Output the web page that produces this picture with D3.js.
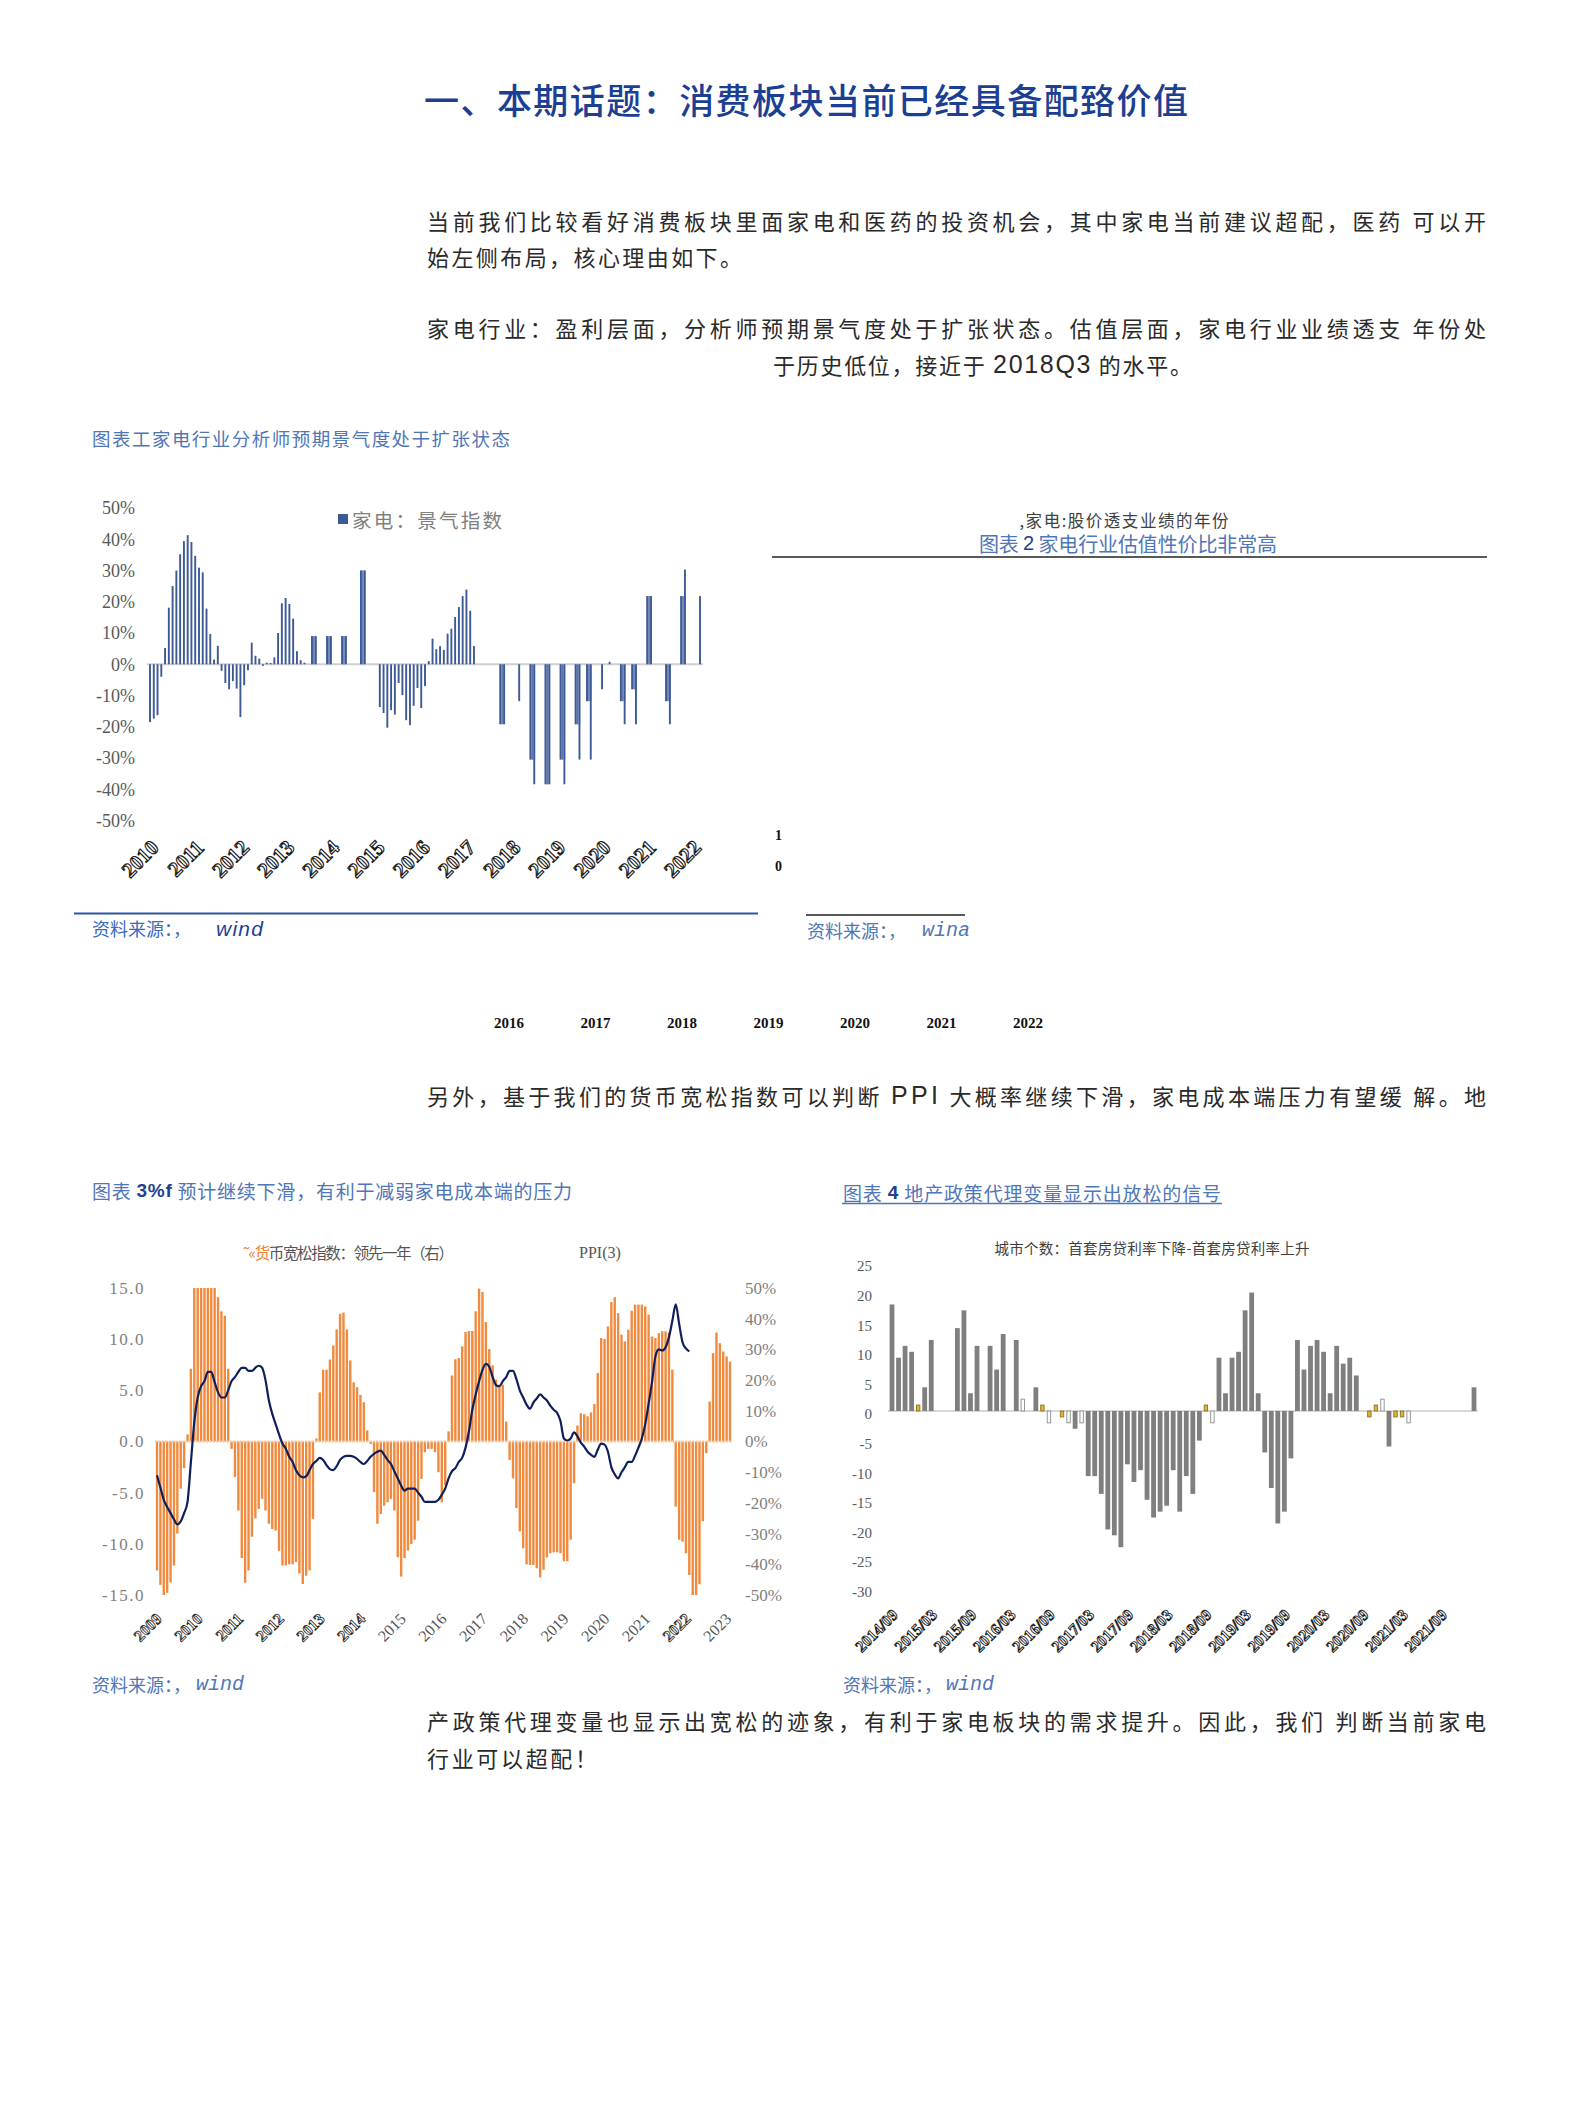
<!DOCTYPE html>
<html><head><meta charset="utf-8">
<script src="https://cdn.jsdelivr.net/npm/d3@7/dist/d3.min.js"></script>
<style>html,body{margin:0;padding:0;background:#fff;}svg{display:block;}</style>
</head><body>
<script>
// ---------------- DATA ----------------
// Chart 1: 家电：景气指数 (monthly, %)
const c1Years = ['2010','2011','2012','2013','2014','2015','2016','2017','2018','2019','2020','2021','2022'];
const c1Values = [
 -18.5,-17.4,-16.3,-4,5.2,18.1,25,30,35.2,39.4,
 41.3,39.1,34.7,30.9,29.4,17.8,9.7,1.5,5.9,-2.1,
 -6,-8,-5.4,-7.8,-16.9,-6.7,-1.9,6.9,2.7,1.8,
 -0.5,0.5,0.4,2.2,10,19.5,21.2,19.3,14.6,4.2,
 1.3,0.5,0,9,9,0,0,9,9,0,
 0,9,9,0,0,0,30,30,0,0,
 0,-13.7,-15.6,-20.3,-14.7,-16.1,-6,-9.9,-17.9,-19.5,
 -13.3,-7.6,-14,-7,1,8.2,4.8,5.8,4.6,9.8,
 11.4,15.1,18.3,21.8,23.9,17.1,5.8,0,0,0,
 0,0,0,-19.2,-19.2,0,0,0,-11.8,0,
 0,-30.5,-38.4,0,0,-38.4,-38.4,0,0,-30.5,
 -38.4,0,0,-19.2,-30.5,0,-11.8,-30.5,0,0,
 -8,0,0.8,0,0,-11.8,-19.2,0,-8,-19.2,
 0,0,21.8,21.8,0,0,0,-11.8,-19.2,0,
 0,21.8,30.3,0,0,0,21.8
];
const c1Ticks = [-50,-40,-30,-20,-10,0,10,20,30,40,50];
// months whose bar is drawn merged with the next month's bar
const c1MergedPairs = [43,47,51,56,93,101,105,109,113,116,125,128,132,137,141];

// Chart 2 (only its year row survives)
const c2Years = ['2016','2017','2018','2019','2020','2021','2022'];

// Chart 3: 货币宽松指数 领先一年 (右, %) and PPI (左, %)
const c3Years = ['2009','2010','2011','2012','2013','2014','2015','2016','2017','2018','2019','2020','2021','2022','2023'];
const c3Money = [
 -42,-46.7,-50,-49.3,-45.9,-40.4,-30,-15.4,-8.7,
 2.3,23.7,50,50,50,50,50,50,50,47,42.4,41,23.7,
 -2.4,-11.6,-22.5,-38,-46,-42,-31,-25,-22,-18.7,-22.5,-26.8,-28.5,-29,-35.6,-40.4,-40.4,-40,-40,-39.3,-43,-46.4,-43.7,-42,-25.2,
 1,
 16,23.4,23.4,26.7,31.3,36.5,41.6,42,36.5,26.4,19.3,17.7,15.2,12.8,3.6,
 -0.8,
 -16.5,-26.8,-23.6,-20.9,-19.8,-18.7,-22.5,-37.7,-44,-38,-35.5,-33.4,-32,-25.8,-12.2,-3.5,-2.4,-2.4,-3.5,-10,-19.8,-14.3,
 3.3,21.5,26.8,27.2,31,35.7,36,36,42.4,49.8,48.7,38.9,30.1,24.8,20.1,18.5,18.5,6.5,
 -6,-12,-21.7,-29.3,-34.8,-40,-40.2,-40.2,-41.3,-44.3,-41.8,-37.8,-36.4,-36.1,-36.1,-36.4,-39,-39,-32,-13.6,
 5.2,9.2,8.9,8.2,9.5,12.2,22.3,33.7,33.4,37.5,45.4,47,41.8,34.8,32.6,36.4,42.6,44.6,44.6,44.6,44,41.3,34.2,33.7,35.3,35.9,35.9,35.5,23.4,
 -21.2,-32,-32.6,-36.4,-43.5,-50,-50,-46.5,-26,-3.8,
 13,28.8,35.5,32,29.3,27.7,26
];
const c3PPI = [
 -3.3,-4.5,-5.7,-6.4,-7.0,-7.6,-8.1,-7.8,-7.0,-5.9,
 -2.0,1.9,4.3,5.4,5.9,6.8,6.8,5.8,4.8,4.3,
 4.3,5.0,5.9,6.3,6.8,7.2,7.2,6.9,6.9,7.2,
 7.4,7.2,6.0,4.0,2.7,1.7,0.7,-0.2,-0.7,-1.5,
 -2.0,-2.8,-3.3,-3.5,-3.4,-2.8,-2.2,-1.9,-1.6,-1.8,
 -2.3,-2.7,-2.8,-2.4,-1.8,-1.5,-1.4,-1.4,-1.5,-1.7,
 -2.0,-2.2,-1.9,-1.5,-1.2,-1.0,-0.9,-1.3,-1.8,-2.2,
 -2.9,-3.6,-4.3,-4.8,-4.6,-4.6,-4.6,-5.0,-5.4,-5.9,
 -5.9,-5.9,-5.9,-5.7,-5.2,-4.6,-3.6,-2.9,-2.6,-2.0,
 -1.6,-0.6,1.0,3.1,4.6,5.9,7.0,7.6,7.3,6.3,
 5.5,5.4,5.9,6.3,6.9,6.9,6.1,5.0,4.3,3.6,
 3.2,3.8,4.2,4.6,4.3,4.0,3.5,3.1,2.8,2.0,
 0.3,0.1,0.3,0.9,0.5,-0.1,-0.5,-1.0,-1.3,-1.5,
 -0.8,-0.2,-0.3,-1.0,-2.5,-3.2,-3.6,-3.0,-2.5,-2.0,
 -2.0,-1.4,-0.6,0.3,1.7,3.7,5.8,8.3,9.0,8.9,
 9.2,10.2,11.8,13.4,11.5,9.7,9.1,8.8
];
const c3LeftTicks = [-15,-10,-5,0,5,10,15];
const c3RightTicks = [-50,-40,-30,-20,-10,0,10,20,30,40,50];

// Chart 4: 城市个数：首套房贷利率下降-首套房贷利率上升 (monthly from 2014/09)
const c4Labels = ['2014/09','2015/03','2015/09','2016/03','2016/09','2017/03','2017/09','2018/03','2018/09','2019/03','2019/09','2020/03','2020/09','2021/03','2021/09'];
const c4Values = [
 18,9,11,10,1,4,12,0,0,0,
 14,17,3,11,0,11,7,13,0,12,
 2,0,4,1,-2,0,-1,-2,-3,-2,
 -11,-11,-14,-20,-21,-23,-9,-12,-10,-15,
 -18,-17,-16,-10,-17,-11,-14,-5,1,-2,
 9,3,9,10,17,20,3,-7,-13,-19,
 -17,-8,12,7,11,12,10,3,11,8,
 9,6,0,-1,1,2,-6,-1,-1,-2,
 0,0,0,0,0,0,0,0,0,4
];
const c4Ticks = [-30,-25,-20,-15,-10,-5,0,5,10,15,20,25];
// styling groups of the small bars
const c4YellowIdx = [4,23,26,48,73,74,77,78];
const c4HollowIdx = [20,24,27,29,49,75,79];

// ---------------- DRAW ----------------
const W = 1571, H = 2112;
const CJK = '"Noto Sans CJK SC","Noto Sans",sans-serif';
const SERIF = '"Liberation Serif","DejaVu Serif",serif';
const SANS = '"Liberation Sans",Arial,sans-serif';
const MONO = '"Liberation Mono","DejaVu Sans Mono",monospace';
const NARROW = '"Liberation Sans Narrow","Liberation Sans",Arial,sans-serif';
const TITLEBLUE = '#4f76b8', DARKBLUE = '#1f3f8f';

const svg = d3.select('body').append('svg').attr('width', W).attr('height', H);
svg.append('rect').attr('width', W).attr('height', H).attr('fill', '#fff');

function T(parent, x, y, parts, o = {}) {
  const t = parent.append('text').attr('x', x).attr('y', y)
    .attr('font-family', o.ff || CJK).attr('font-size', o.fs || 22)
    .attr('fill', o.fill || '#2a2a2a').attr('dominant-baseline', 'central');
  if (o.anchor) t.attr('text-anchor', o.anchor);
  if (o.fw) t.attr('font-weight', o.fw);
  if (o.st) t.attr('font-style', o.st);
  if (o.len) t.attr('textLength', o.len).attr('lengthAdjust', 'spacing');
  (typeof parts === 'string' ? [{ t: parts }] : parts).forEach(p => {
    const s = t.append('tspan').text(p.t);
    if (p.fill) s.attr('fill', p.fill);
    if (p.ff) s.attr('font-family', p.ff);
    if (p.fw) s.attr('font-weight', p.fw);
    if (p.fs) s.attr('font-size', p.fs);
    if (p.st) s.attr('font-style', p.st);
  });
  return t;
}

// ---- page text ----
T(svg, 424, 98, '一、本期话题：消费板块当前已经具备配臵价值', { fs: 35, fill: '#1d3f93', fw: 500, len: 764 });
T(svg, 427, 220, '当前我们比较看好消费板块里面家电和医药的投资机会，其中家电当前建议超配，医药 可以开', { fs: 22, len: 1059 });
T(svg, 427, 256, '始左侧布局，核心理由如下。', { fs: 22, len: 315 });
T(svg, 427, 327, '家电行业：盈利层面，分析师预期景气度处于扩张状态。估值层面，家电行业业绩透支 年份处', { fs: 22, len: 1059 });
T(svg, 773, 364, [{ t: '于历史低位，接近于 ' }, { t: '2018Q3', ff: NARROW, fs: 25 }, { t: ' 的水平。' }], { fs: 22, len: 419 });
T(svg, 427, 1095, [{ t: '另外，基于我们的货币宽松指数可以判断 ' }, { t: 'PPI', ff: NARROW, fs: 25 }, { t: ' 大概率继续下滑，家电成本端压力有望缓 解。地' }], { fs: 22, len: 1059 });
T(svg, 427, 1720, '产政策代理变量也显示出宽松的迹象，有利于家电板块的需求提升。因此，我们 判断当前家电', { fs: 22, len: 1059 });
T(svg, 427, 1757, '行业可以超配！', { fs: 22, len: 170 });

// ---- chart titles & sources ----
T(svg, 92, 438, '图表工家电行业分析师预期景气度处于扩张状态', { fs: 18.5, fill: TITLEBLUE, len: 418 });
T(svg, 1124, 520, ',家电:股价透支业绩的年份', { fs: 16.5, fill: '#404040', anchor: 'middle', len: 209 });
T(svg, 1128, 543, [{ t: '图表 ' }, { t: '2', ff: SANS, fill: DARKBLUE }, { t: ' 家电行业估值性价比非常高' }], { fs: 20, fill: TITLEBLUE, anchor: 'middle', len: 298 });
svg.append('line').attr('x1', 772).attr('x2', 1487).attr('y1', 557).attr('y2', 557).attr('stroke', '#222').attr('stroke-width', 1.5);
T(svg, 92, 1190, [{ t: '图表 ' }, { t: '3%f', ff: SANS, fw: 'bold', fill: DARKBLUE }, { t: ' 预计继续下滑，有利于减弱家电成本端的压力' }], { fs: 19, fill: TITLEBLUE, len: 480 });
T(svg, 843, 1192, [{ t: '图表 ' }, { t: '4', ff: SANS, fw: 'bold', fill: DARKBLUE }, { t: ' 地产政策代理变量显示出放松的信号' }], { fs: 19, fill: TITLEBLUE, len: 378 });
svg.append('line').attr('x1', 842).attr('x2', 1222).attr('y1', 1203.5).attr('y2', 1203.5).attr('stroke', TITLEBLUE).attr('stroke-width', 1.4);

svg.append('line').attr('x1', 74).attr('x2', 758).attr('y1', 913.5).attr('y2', 913.5).attr('stroke', '#2f55a4').attr('stroke-width', 2.2);
T(svg, 92, 928, '资料来源：，', { fs: 18, fill: '#3a6bbf' });
T(svg, 216, 928, 'wind', { ff: SANS, st: 'italic', fill: '#1f3f99', fs: 21, len: 47 });
svg.append('line').attr('x1', 806).attr('x2', 965).attr('y1', 915).attr('y2', 915).attr('stroke', '#222').attr('stroke-width', 1.3);
T(svg, 807, 930, '资料来源：，', { fs: 18, fill: TITLEBLUE });
T(svg, 922, 930, 'wina', { ff: MONO, st: 'italic', fs: 20, fill: TITLEBLUE });
T(svg, 92, 1684, '资料来源：，', { fs: 18, fill: TITLEBLUE });
T(svg, 196, 1684, 'wind', { ff: MONO, st: 'italic', fs: 20, fill: TITLEBLUE });
T(svg, 843, 1684, '资料来源：，', { fs: 18, fill: TITLEBLUE });
T(svg, 946, 1684, 'wind', { ff: MONO, st: 'italic', fs: 20, fill: TITLEBLUE });

// chart 2 leftovers
T(svg, 775, 835, '1', { ff: SERIF, fw: 'bold', fs: 14, fill: '#111' });
T(svg, 775, 866, '0', { ff: SERIF, fw: 'bold', fs: 14, fill: '#111' });
const x2 = d3.scalePoint().domain(c2Years).range([509, 1028]);
svg.append('g').selectAll('text').data(c2Years).join('text')
  .attr('x', d => x2(d)).attr('y', 1023).attr('text-anchor', 'middle').attr('dominant-baseline', 'central')
  .attr('font-family', SERIF).attr('font-weight', 'bold').attr('font-size', 15).attr('fill', '#111').text(d => d);

// ---------- Chart 1 ----------
{
  const n = c1Values.length;
  const x1 = d3.scaleLinear().domain([0, n - 1]).range([150, 700]);
  const y1 = d3.scaleLinear().domain([-50, 50]).range([820.5, 508]);
  const g = svg.append('g');
  const bw = 1.9;
  g.append('line').attr('x1', x1(0) - 3).attr('x2', x1(n - 1) + 3).attr('y1', y1(0)).attr('y2', y1(0))
    .attr('stroke', '#d0d0d0').attr('stroke-width', 2);
  const mv = i => { const a = c1Values[i], b = c1Values[i + 1]; return Math.abs(a) < Math.abs(b) ? a : b; };
  g.selectAll('rect.blk').data(c1MergedPairs).join('rect').attr('class', 'blk')
    .attr('x', i => x1(i) - bw / 2).attr('width', i => x1(i + 1) - x1(i) + bw)
    .attr('y', i => Math.min(y1(0), y1(mv(i)))).attr('height', i => Math.abs(y1(mv(i)) - y1(0)))
    .attr('fill', '#a9b7d6');
  g.selectAll('rect.mid').data(c1MergedPairs).join('rect').attr('class', 'mid')
    .attr('x', i => (x1(i) + x1(i + 1)) / 2 - 0.6).attr('width', 1.2)
    .attr('y', i => Math.min(y1(0), y1(mv(i)))).attr('height', i => Math.abs(y1(mv(i)) - y1(0)))
    .attr('fill', '#5b73a8');
  const bars = c1Values.map((v, i) => ({ v, i })).filter(d => d.v !== 0);
  g.selectAll('rect.bar').data(bars).join('rect').attr('class', 'bar')
    .attr('x', d => x1(d.i) - bw / 2).attr('width', bw)
    .attr('y', d => Math.min(y1(0), y1(d.v))).attr('height', d => Math.abs(y1(d.v) - y1(0)))
    .attr('fill', '#3d5a96');
  const ax = svg.append('g').attr('transform', 'translate(135,0)')
    .call(d3.axisLeft(y1).tickValues(c1Ticks).tickSize(0).tickPadding(0).tickFormat(d => d + '%'));
  ax.select('.domain').remove();
  ax.attr('font-family', SERIF).attr('font-size', 18).attr('color', '#595959');
  g.selectAll('text.xl').data(c1Years).join('text').attr('class', 'xl')
    .attr('transform', (d, k) => `translate(${x1(k * 12) + 5},844) rotate(-45)`)
    .attr('text-anchor', 'end').attr('dominant-baseline', 'central')
    .attr('font-family', SERIF).attr('font-weight', 'bold').attr('font-size', 21)
    .attr('fill', '#fff').attr('stroke', '#1a1a1a').attr('stroke-width', 1.1).text(d => d);
  // legend
  g.append('rect').attr('x', 338).attr('y', 514).attr('width', 10).attr('height', 10).attr('fill', '#3d5a96');
  T(g, 352, 519, '家电：景气指数', { fs: 19.5, fill: '#808080', len: 150 });
}

// ---------- Chart 3 ----------
{
  const n = c3Money.length;
  const x3 = d3.scaleLinear().domain([0, n - 1]).range([157, 730]);
  const yL = d3.scaleLinear().domain([-15, 15]).range([1595, 1288]);
  const yR = d3.scaleLinear().domain([-50, 50]).range([1595, 1288]);
  const g = svg.append('g');
  const bw = 2.4;
  g.selectAll('rect.bar').data(c3Money.map((v, i) => ({ v, i }))).join('rect').attr('class', 'bar')
    .attr('x', d => x3(d.i) - bw / 2).attr('width', bw)
    .attr('y', d => Math.min(yR(0), yR(d.v))).attr('height', d => Math.abs(yR(d.v) - yR(0)))
    .attr('fill', '#ef8a3e');
  g.append('line').attr('x1', x3(0) - 2).attr('x2', x3(n - 1) + 2).attr('y1', yR(0)).attr('y2', yR(0))
    .attr('stroke', '#f2c7a6').attr('stroke-width', 2.2).attr('stroke-dasharray', '2,1.4');
  const line = d3.line().x((d, i) => x3(i)).y(d => yL(d)).curve(d3.curveMonotoneX);
  g.append('path').datum(c3PPI).attr('d', line).attr('fill', 'none').attr('stroke', '#0f1f5c').attr('stroke-width', 2.2);
  const axL = svg.append('g').attr('transform', 'translate(145,0)')
    .call(d3.axisLeft(yL).tickValues(c3LeftTicks).tickSize(0).tickPadding(0).tickFormat(d => d.toFixed(1)));
  axL.select('.domain').remove();
  axL.attr('font-family', SERIF).attr('font-size', 17).attr('color', '#7f7f7f').attr('letter-spacing', 1.5);
  const axR = svg.append('g').attr('transform', 'translate(745,0)')
    .call(d3.axisRight(yR).tickValues(c3RightTicks).tickSize(0).tickPadding(0).tickFormat(d => d + '%'));
  axR.select('.domain').remove();
  axR.attr('font-family', SERIF).attr('font-size', 17).attr('color', '#7f7f7f');
  const boldYears = new Set(['2009','2010','2011','2012','2013','2014','2022']);
  g.selectAll('text.xl').data(c3Years).join('text').attr('class', 'xl')
    .attr('transform', (d, k) => `translate(${x3(k * 12) + 2},1616) rotate(-45)`)
    .attr('text-anchor', 'end').attr('dominant-baseline', 'central')
    .attr('font-family', SERIF).attr('font-size', 16)
    .attr('font-weight', d => boldYears.has(d) ? 'bold' : 'normal')
    .attr('fill', d => boldYears.has(d) ? '#fff' : '#555')
    .attr('stroke', d => boldYears.has(d) ? '#222' : 'none').attr('stroke-width', 0.8)
    .text(d => d);
  T(g, 243, 1252, [{ t: '˜«货', fill: '#ed7d31' }, { t: '币宽松指数：领先一年（右）' }], { fs: 15.5, fill: '#555', len: 211 });
  T(g, 579, 1252, 'PPI(3)', { ff: SERIF, fs: 16, fill: '#555' });
}

// ---------- Chart 4 ----------
{
  const n = c4Values.length;
  const x4 = d3.scaleLinear().domain([0, n - 1]).range([892, 1474]);
  const y4 = d3.scaleLinear().domain([-30, 25]).range([1588.6, 1263]);
  const g = svg.append('g');
  const yel = new Set(c4YellowIdx), hol = new Set(c4HollowIdx);
  g.append('line').attr('x1', x4(0) - 4).attr('x2', x4(n - 1) + 4).attr('y1', y4(0)).attr('y2', y4(0))
    .attr('stroke', '#d9d9d9').attr('stroke-width', 2);
  const bars = c4Values.map((v, i) => ({ v, i })).filter(d => d.v !== 0);
  g.selectAll('rect.bar').data(bars).join('rect').attr('class', 'bar')
    .attr('x', d => x4(d.i) - ((yel.has(d.i) || hol.has(d.i)) ? 1.7 : 2.4))
    .attr('width', d => (yel.has(d.i) || hol.has(d.i)) ? 3.4 : 4.8)
    .attr('y', d => Math.min(y4(0), y4(d.v))).attr('height', d => Math.abs(y4(d.v) - y4(0)))
    .attr('fill', d => yel.has(d.i) ? '#e0b43a' : hol.has(d.i) ? '#fff' : '#7f7f7f')
    .attr('stroke', d => yel.has(d.i) ? '#8f6f1c' : hol.has(d.i) ? '#8c8c8c' : 'none')
    .attr('stroke-width', 0.9);
  const ax = svg.append('g').attr('transform', 'translate(872,3)')
    .call(d3.axisLeft(y4).tickValues(c4Ticks).tickSize(0).tickPadding(0).tickFormat(d => String(d)));
  ax.select('.domain').remove();
  ax.attr('font-family', SERIF).attr('font-size', 15).attr('color', '#595959');
  g.selectAll('text.xl').data(c4Labels).join('text').attr('class', 'xl')
    .attr('transform', (d, k) => `translate(${x4(k * 6) + 3},1612) rotate(-45)`)
    .attr('text-anchor', 'end').attr('dominant-baseline', 'central')
    .attr('font-family', SERIF).attr('font-weight', 'bold').attr('font-size', 16)
    .attr('fill', '#fff').attr('stroke', '#1a1a1a').attr('stroke-width', 0.9).text(d => d);
  T(g, 1152, 1247, '城市个数：首套房贷利率下降-首套房贷利率上升', { fs: 14.5, fill: '#404040', anchor: 'middle', len: 315 });
}
</script>
</body></html>
